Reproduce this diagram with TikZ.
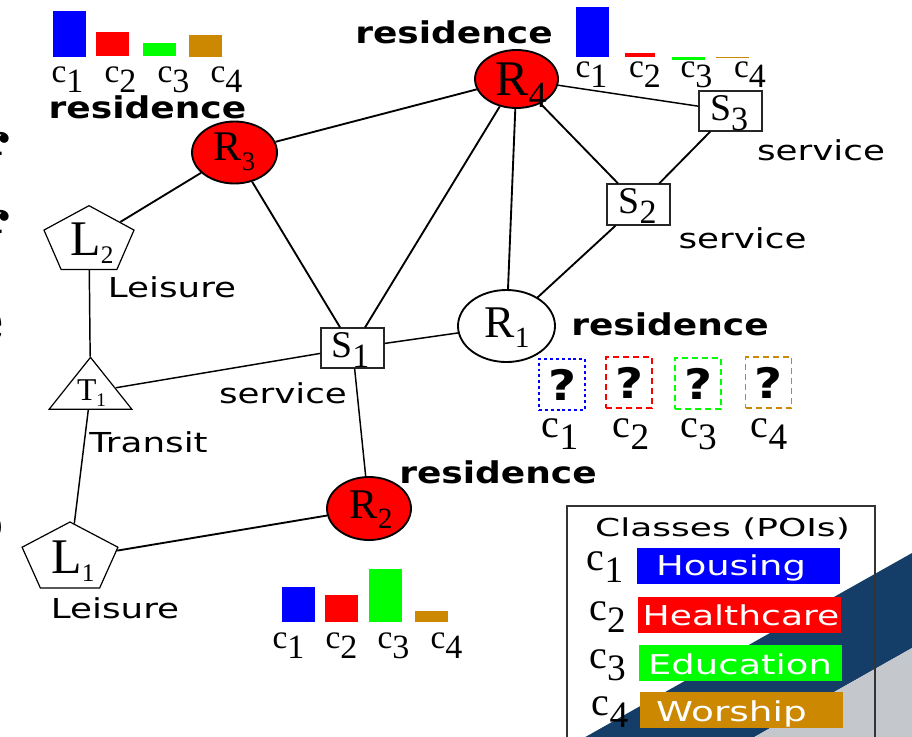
\documentclass[tikz,border=0pt]{standalone}
\usepackage{fontspec}
\usepackage{graphicx}
\newfontfamily\dv{DejaVu Sans}
\newfontfamily\tms{Liberation Serif}
\usetikzlibrary{shapes.geometric}
\definecolor{cA}{RGB}{0,0,255}
\definecolor{cB}{RGB}{255,0,0}
\definecolor{cC}{RGB}{0,255,0}
\definecolor{cD}{RGB}{204,136,0}
\definecolor{navy}{RGB}{20,62,104}
\definecolor{slate}{RGB}{196,199,204}
\newcommand{\sans}[3]{\scalebox{#1}[1]{\fontsize{#2}{#2}\selectfont\dv #3}}
\newcommand{\cls}[3]{{\tms\fontsize{#1}{#1}\selectfont c\raisebox{-0.3em}{\fontsize{#2}{#2}\selectfont #3}}}
\newcommand{\idx}[5]{{\tms\fontsize{#1}{#1}\selectfont #2\raisebox{-#5}{\fontsize{#3}{#3}\selectfont #4}}}
\begin{document}
\begin{tikzpicture}[x=0.75pt,y=-0.75pt,
  edge/.style={line width=1.4pt},
  thinedge/.style={line width=1.1pt},
  txt/.style={anchor=base,inner sep=0pt,outer sep=0pt},
  resnode/.style={ellipse,draw,line width=1.4pt,inner sep=0pt},
  svc/.style={rectangle,draw=black!85,line width=0.9pt,fill=white,inner sep=0pt,minimum width=47.25pt,minimum height=30pt},
  poly/.style={regular polygon,draw,line width=0.9pt,inner sep=0pt,fill=white},
  qbox/.style={draw,line width=1.1pt,minimum width=34.5pt,minimum height=38.25pt,inner sep=0pt},
]
\useasboundingbox (0,0) rectangle (912,736);
% background of slide
\fill[navy] (580,740) -- (912,553) -- (912,648) -- (749,740) -- cycle;
\fill[slate] (749,740) -- (912,648) -- (916,740) -- cycle;
% cut-off slide letters at left edge
\node[txt,anchor=base west] (fa) at (-23,186) {\fontsize{58pt}{58pt}\selectfont\bfseries f};
\node[txt,anchor=base west] (fb) at (-23,264) {\fontsize{58pt}{58pt}\selectfont\bfseries f};
\node[txt,anchor=base west] (fc) at (-35,343) {\fontsize{58pt}{58pt}\selectfont\bfseries e};
\node[txt,anchor=base west] (fd) at (-39,544) {\fontsize{58pt}{58pt}\selectfont\bfseries o};

% nodes
\node[resnode,fill=cB,minimum width=63.75pt,minimum height=46.5pt] (R3) at (234.5,152.5) {};
\node[resnode,fill=cB,minimum width=62.25pt,minimum height=43.5pt] (R4) at (516.5,79) {};
\node[resnode,fill=white,minimum width=72.75pt,minimum height=54pt] (R1) at (506.5,326) {};
\node[resnode,fill=cB,minimum width=63pt,minimum height=47.25pt] (R2) at (369,508.5) {};
\node[svc] (S1) at (352.5,348) {};
\node[svc,minimum height=30.75pt] (S2) at (638.5,204.5) {};
\node[svc] (S3) at (730.5,111) {};
\begin{scope}[shift={(89,241)},xscale=1.34]
  \node[poly,regular polygon sides=5,minimum size=53pt,transform shape] (L2) at (0,0) {};
\end{scope}
\begin{scope}[shift={(70,558.5)},xscale=1.38]
  \node[poly,regular polygon sides=5,minimum size=54.75pt,transform shape] (L1) at (0,0) {};
\end{scope}
\begin{scope}[shift={(90.5,392)},xscale=1.38]
  \node[poly,regular polygon sides=3,minimum size=52pt,transform shape] (T1) at (0,0) {};
\end{scope}

% connectors
\draw[edge] (L2) -- (R3);
\draw[thinedge] (L2) -- (T1);
\draw[thinedge] (T1) -- (S1);
\draw[thinedge] (T1) -- (L1);
\draw[edge] (L1) -- (R2);
\draw[thinedge] (R2) -- (S1);
\draw[edge] (S1) -- (R3);
\draw[edge] (S1) -- (R4);
\draw[thinedge] (S1) -- (R1);
\draw[edge] (R3) -- (R4);
\draw[edge] (R4) -- (R1);
\draw[edge] (R4) -- (S2);
\draw[thinedge] (R4) -- (S3);
\draw[edge] (S2) -- (S3);
\draw[edge] (S2) -- (R1);

% node texts
\node[txt] (tR3) at (234.5,160) {\idx{31.7pt}{R}{20pt}{3}{7.5pt}};
\node[txt] (tR4) at (521,95) {\idx{37.4pt}{R}{27.7pt}{4}{9pt}};
\node[txt] (tR1) at (507,337) {\idx{34pt}{R}{22pt}{1}{7.5pt}};
\node[txt] (tR2) at (371,518) {\idx{31.7pt}{R}{22pt}{2}{7.5pt}};
\node[txt] (tS1) at (350.5,357) {\idx{28.3pt}{S}{25.5pt}{1}{7.5pt}};
\node[txt] (tS2) at (637.5,213) {\idx{28.3pt}{S}{25.5pt}{2}{7.5pt}};
\node[txt] (tS3) at (729,120) {\idx{28.3pt}{S}{25.5pt}{3}{7.5pt}};
\node[txt] (tL2) at (92,255) {\idx{37.4pt}{L}{19pt}{2}{6pt}};
\node[txt] (tL1) at (73,573) {\idx{37.4pt}{L}{19pt}{1}{6pt}};
\node[txt] (tT1) at (91.5,400) {\idx{23.8pt}{T}{14.4pt}{1}{5pt}};

% type labels
\node[txt] (rs3) at (147.5,118) {\sans{1.2}{22.5pt}{\bfseries residence}};
\node[txt] (rs4) at (454,43) {\sans{1.2}{22.5pt}{\bfseries residence}};
\node[txt] (rs1) at (670,335) {\sans{1.2}{22.5pt}{\bfseries residence}};
\node[txt] (rs2) at (498,483) {\sans{1.2}{22.5pt}{\bfseries residence}};
\node[txt] (le2) at (172,297) {\sans{1.3}{20.6pt}{Leisure}};
\node[txt] (le1) at (115,618) {\sans{1.3}{20.6pt}{Leisure}};
\node[txt] (tr1) at (148.5,452) {\sans{1.3}{20.6pt}{Transit}};
\node[txt] (sv1) at (283,403) {\sans{1.3}{20.6pt}{service}};
\node[txt] (sv3) at (821,160) {\sans{1.3}{20.6pt}{service}};
\node[txt] (sv2) at (742.5,248) {\sans{1.3}{20.6pt}{service}};

% bar chart R3
\fill[cA] (53,11) rectangle (86,57);
\fill[cB] (96,32) rectangle (129,56);
\fill[cC] (143,43) rectangle (176,56);
\fill[cD] (189,35) rectangle (222,57);
\node[txt] (a1) at (67.5,82) {\cls{25pt}{25.5pt}{1}};
\node[txt] (a2) at (120.5,82) {\cls{25pt}{25.5pt}{2}};
\node[txt] (a3) at (173.5,82) {\cls{25pt}{25.5pt}{3}};
\node[txt] (a4) at (226.5,82) {\cls{25pt}{25.5pt}{4}};
% bar chart R4
\fill[cA] (576,7) rectangle (609,57);
\fill[cB] (625,53) rectangle (655,57);
\fill[cC] (672,56.5) rectangle (705,60);
\fill[cD] (716,56.6) rectangle (749,57.9);
\node[txt] (b1) at (591.5,77) {\cls{25pt}{25.5pt}{1}};
\node[txt] (b2) at (645,77) {\cls{25pt}{25.5pt}{2}};
\node[txt] (b3) at (696.5,77) {\cls{25pt}{25.5pt}{3}};
\node[txt] (b4) at (750,77) {\cls{25pt}{25.5pt}{4}};
% bar chart R2
\fill[cA] (282,587) rectangle (315,622);
\fill[cB] (325,595) rectangle (358,622);
\fill[cC] (369,569) rectangle (402,622);
\fill[cD] (415,611) rectangle (448,622);
\node[txt] (d1) at (288.5,648) {\cls{25pt}{25.5pt}{1}};
\node[txt] (d2) at (341.5,648) {\cls{25pt}{25.5pt}{2}};
\node[txt] (d3) at (393.5,648) {\cls{25pt}{25.5pt}{3}};
\node[txt] (d4) at (446.5,648) {\cls{25pt}{25.5pt}{4}};
% unknown R1
\node[qbox,draw=cA,dash pattern=on 2.2pt off 2.2pt] (q1) at (562,384.5) {\sans{1.15}{31.5pt}{\bfseries ?}};
\node[qbox,draw=cB,dash pattern=on 4.5pt off 3pt] (q2) at (629,382.5) {\sans{1.15}{31.5pt}{\bfseries ?}};
\node[qbox,draw=cC,dash pattern=on 4.5pt off 3pt] (q3) at (698,383.5) {\sans{1.15}{31.5pt}{\bfseries ?}};
\node[qbox,draw=cD,dash pattern=on 4.5pt off 3pt] (q4) at (768.5,382.5) {\sans{1.15}{31.5pt}{\bfseries ?}};
\node[txt] (e1) at (560,437) {\cls{30pt}{28pt}{1}};
\node[txt] (e2) at (631,437) {\cls{30pt}{28pt}{2}};
\node[txt] (e3) at (698.5,437) {\cls{30pt}{28pt}{3}};
\node[txt] (e4) at (769,437) {\cls{30pt}{28pt}{4}};

% legend
\draw[black!80,line width=0.9pt] (567,506) rectangle (875,760);
\node[txt] (lt) at (722.5,536.5) {\sans{1.46}{18.5pt}{Classes (POIs)}};
\fill[cA] (637,548) rectangle (840,584);
\fill[cB] (638,597) rectangle (841,633);
\fill[cC] (639,645) rectangle (842,681);
\fill[cD] (640,692) rectangle (843,728);
\node[txt,text=white] (h1) at (731,575) {\sans{1.35}{20.5pt}{Housing}};
\node[txt,text=white] (h2) at (741,625) {\sans{1.32}{20.5pt}{Healthcare}};
\node[txt,text=white] (h3) at (740,674) {\sans{1.35}{20.5pt}{Education}};
\node[txt,text=white] (h4) at (731.5,721) {\sans{1.37}{20.5pt}{Worship}};
\node[txt] (g1) at (605,570) {\cls{30pt}{28pt}{1}};
\node[txt] (g2) at (607.5,620) {\cls{30pt}{28pt}{2}};
\node[txt] (g3) at (607.5,668) {\cls{30pt}{28pt}{3}};
\node[txt] (g4) at (610,715) {\cls{30pt}{28pt}{4}};
\end{tikzpicture}
\end{document}
